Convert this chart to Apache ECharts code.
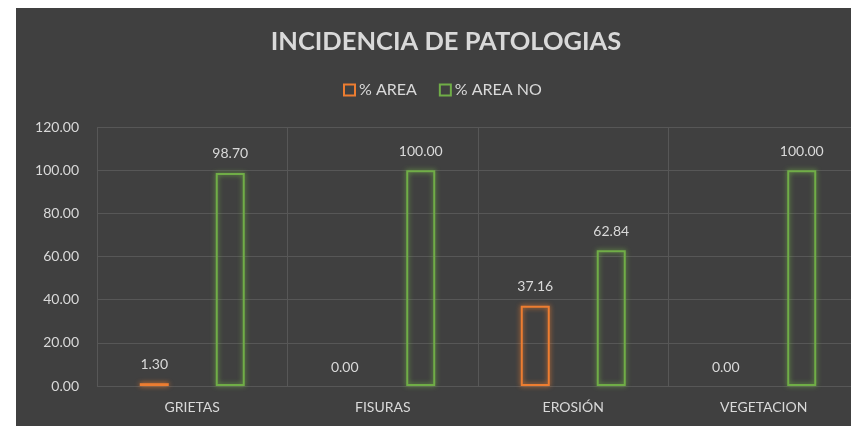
<!DOCTYPE html>
<html>
<head>
<meta charset="utf-8">
<script src="https://cdn.jsdelivr.net/npm/echarts@6/dist/echarts.min.js"></script>
<style>
  html, body { margin: 0; padding: 0; background: #ffffff; width: 851px; height: 426px; overflow: hidden; }
  #chart { position: absolute; left: 16px; top: 8px; width: 860px; height: 418px; background: #404040; }
</style>
</head>
<body>
<div id="chart"></div>
<script>
// Pathology incidence per category (percent of area)
const categories = ['GRIETAS', 'FISURAS', 'EROSIÓN', 'VEGETACION'];
const areaPct = [1.30, 0.00, 37.16, 0.00];
const areaNoPct = [98.70, 100.00, 62.84, 100.00];
const seriesNames = ['% AREA', '% AREA NO'];
const yTicks = { min: 0, max: 120, interval: 20 };

const orange = '#ED7D31';
const green = '#70AD47';
const textColor = '#d9d9d9';
const gridColor = '#575757';
const font = 'Lato, "Open Sans", sans-serif';

const chart = echarts.init(document.getElementById('chart'));

function outlinedBar(name, data, color) {
  return {
    name: name,
    type: 'bar',
    // zero-height bars get no outline, only their value label
    data: data.map(v => v === 0 ? { value: v, itemStyle: { borderWidth: 0, shadowBlur: 0 } } : v),
    barWidth: 29,
    barGap: '162%',
    itemStyle: {
      color: 'rgba(0,0,0,0)',
      borderColor: color,
      borderWidth: 2,
      shadowColor: color,
      shadowBlur: 5
    },
    label: {
      show: true,
      position: 'top',
      distance: 12,
      color: textColor,
      fontFamily: font,
      fontSize: 14,
      formatter: p => p.value.toFixed(2)
    }
  };
}

chart.setOption({
  animation: false,
  title: {
    text: 'INCIDENCIA DE PATOLOGIAS',
    left: 425,
    textAlign: 'center',
    top: 16,
    textStyle: { color: textColor, fontFamily: font, fontSize: 25.5, fontWeight: 'bold' }
  },
  legend: {
    top: 69,
    left: 322,
    itemWidth: 11,
    itemHeight: 11,
    itemGap: 22,
    icon: 'rect',
    textStyle: { color: textColor, fontFamily: font, fontSize: 16, padding: [0, 0, 0, -1] },
    data: seriesNames.map((n, i) => ({
      name: n,
      itemStyle: { color: 'rgba(0,0,0,0)', borderColor: i === 0 ? orange : green, borderWidth: 2 }
    }))
  },
  grid: { left: 81, top: 119, bottom: 40, right: 17, containLabel: false },
  xAxis: {
    type: 'category',
    data: categories,
    axisLine: { show: false },
    axisTick: { show: false },
    splitLine: { show: true, lineStyle: { color: gridColor, width: 1 } },
    axisLabel: { color: textColor, fontFamily: font, fontSize: 14, margin: 14 }
  },
  yAxis: {
    type: 'value',
    min: yTicks.min,
    max: yTicks.max,
    interval: yTicks.interval,
    axisLine: { show: false },
    axisTick: { show: false },
    splitLine: { lineStyle: { color: gridColor, width: 1 } },
    axisLabel: {
      color: textColor, fontFamily: font, fontSize: 14, margin: 18,
      formatter: v => v.toFixed(2)
    }
  },
  series: [
    outlinedBar(seriesNames[0], areaPct, orange),
    outlinedBar(seriesNames[1], areaNoPct, green)
  ]
});
</script>
</body>
</html>
